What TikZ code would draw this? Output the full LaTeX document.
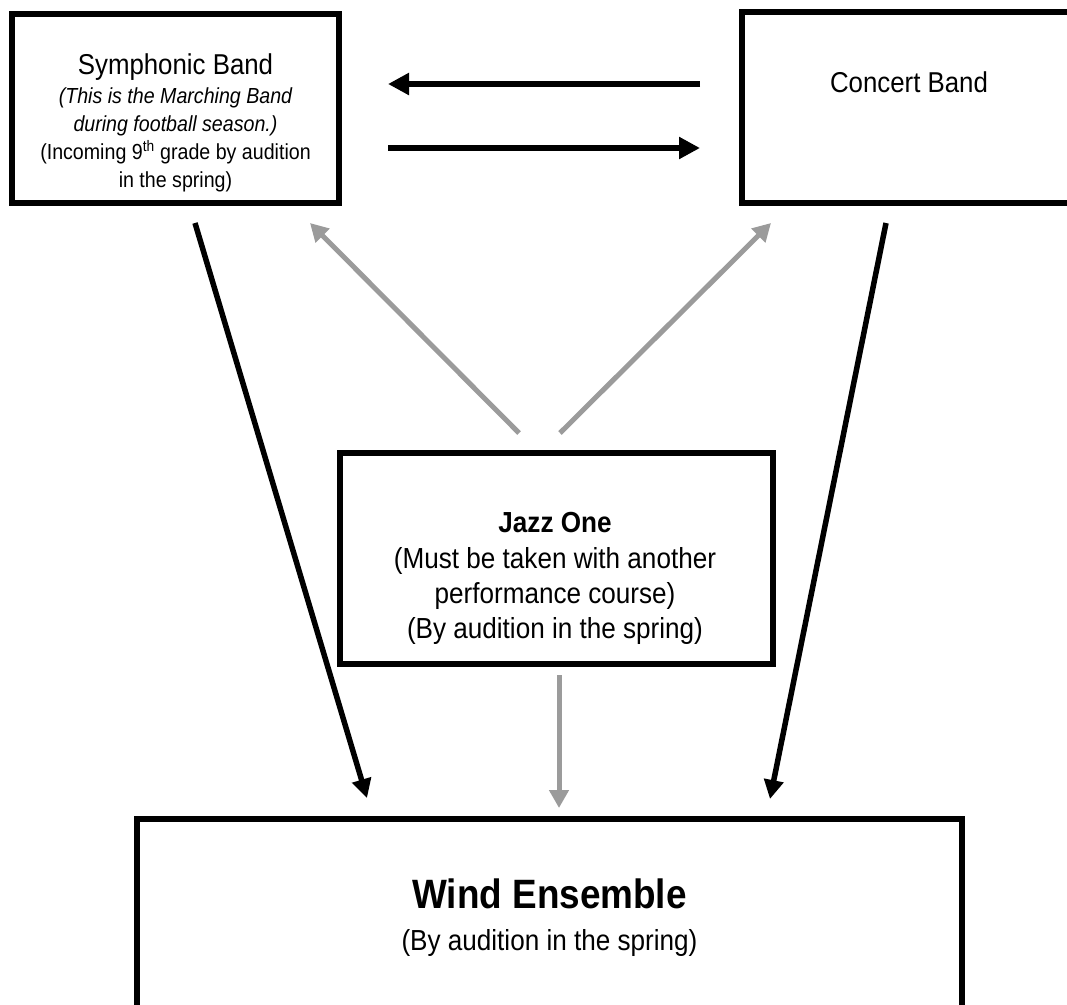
\documentclass[tikz,border=0pt]{standalone}
\usepackage{fontspec}
\setmainfont[FakeStretch=0.9]{Liberation Sans}
\usetikzlibrary{arrows.meta}
\definecolor{arrowgray}{RGB}{155,155,155}
\tikzset{
  boxnode/.style={draw=black, line width=5.5pt, rectangle, inner sep=0pt, outer sep=0pt},
  txt/.style={anchor=base, inner sep=0pt, outer sep=0pt},
  blackarrow/.style={draw=black, line width=5.5pt, -{Triangle[length=19pt,width=19pt]}},
  flatarrow/.style={draw=black, line width=5.5pt, -{Triangle[length=21pt,width=21pt]}},
  grayarrow/.style={draw=arrowgray, line width=5pt, -{Triangle[length=18pt,width=19pt]}},
  bigf/.style={font=\fontsize{28.7}{34}\selectfont},
  smallf/.style={font=\fontsize{21.8}{27}\selectfont},
  midf/.style={font=\fontsize{29}{35}\selectfont},
  hugef/.style={font=\fontsize{41}{48}\selectfont\bfseries}
}
\begin{document}
\begin{tikzpicture}[x=1pt,y=-1pt]
\useasboundingbox (0,0) rectangle (1067,1004);
\clip (0,0) rectangle (1067,1004);
% boxes
\node[boxnode, minimum width=327pt, minimum height=189pt] (sym) at (175.5,108.5) {};
\node[boxnode, minimum width=334pt, minimum height=191pt] (con) at (909,107.5) {};
\node[boxnode, minimum width=433pt, minimum height=211pt] (jazz) at (556.5,558.5) {};
\node[boxnode, minimum width=825pt, minimum height=281pt] (wind) at (549.5,959.5) {};
% texts
\node[txt, bigf] (s1) at (175.5,74) {Symphonic Band};
\node[txt, smallf] (s2) at (175.5,103) {\itshape (This is the Marching Band};
\node[txt, smallf] (s3) at (175.5,131) {\itshape during football season.)};
\node[txt, smallf] (s4) at (175.5,159) {(Incoming 9\textsuperscript{th} grade by audition};
\node[txt, smallf] (s5) at (175.5,187) {in the spring)};
\node[txt, bigf] (c1) at (909,92) {Concert Band};
\node[txt, midf] (j1) at (555,532) {\bfseries Jazz One};
\node[txt, midf] (j2) at (555,568) {(Must be taken with another};
\node[txt, midf] (j3) at (555,603) {performance course)};
\node[txt, midf] (j4) at (555,638) {(By audition in the spring)};
\node[txt, hugef] (w1) at (549.5,908) {Wind Ensemble};
\node[txt, midf] (w2) at (549.5,950) {(By audition in the spring)};
% connector end points
\coordinate (topR) at (700,84);
\coordinate (topL) at (388,84);
\coordinate (botL) at (388,148);
\coordinate (botR) at (700,148);
\coordinate (symOut) at (195,223);
\coordinate (windInL) at (367,798);
\coordinate (conOut) at (886,223);
\coordinate (windInR) at (770,799);
\coordinate (jazzOutL) at (519,433);
\coordinate (symIn) at (310,223);
\coordinate (jazzOutR) at (560,433);
\coordinate (conIn) at (771,223);
\coordinate (jazzOutB) at (559,675);
\coordinate (windInM) at (559,808);
% connectors
\draw[flatarrow] (topR) -- (topL);
\draw[flatarrow] (botL) -- (botR);
\draw[blackarrow] (symOut) -- (windInL);
\draw[blackarrow] (conOut) -- (windInR);
\draw[grayarrow] (jazzOutL) -- (symIn);
\draw[grayarrow] (jazzOutR) -- (conIn);
\draw[grayarrow] (jazzOutB) -- (windInM);
\end{tikzpicture}
\end{document}
